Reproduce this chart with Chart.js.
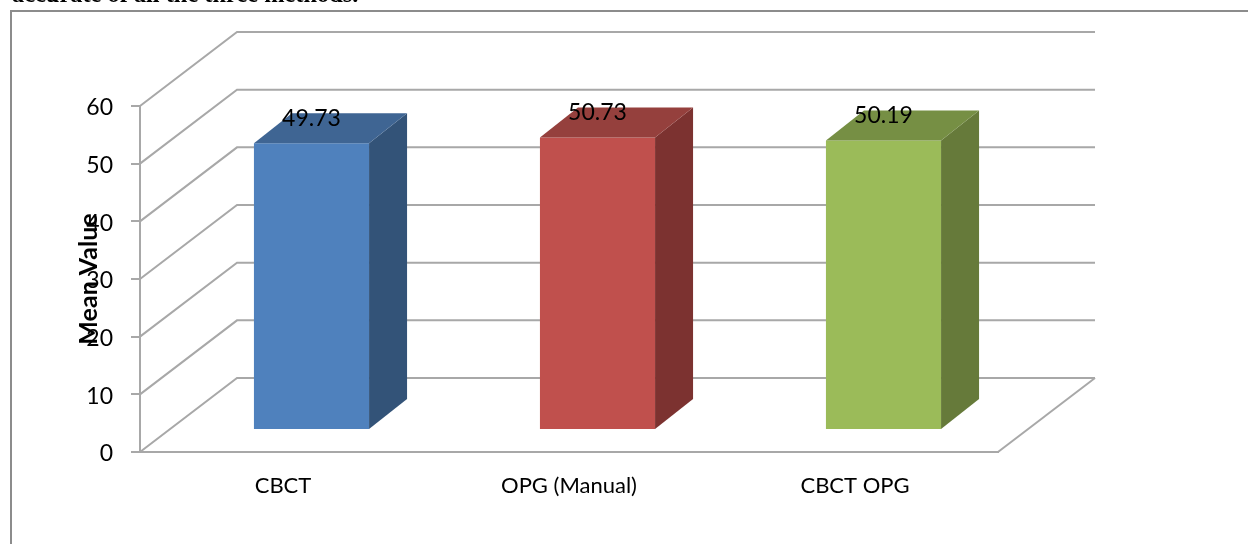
<!DOCTYPE html>
<html>
<head>
<meta charset="utf-8">
<script src="https://cdn.jsdelivr.net/npm/chart.js@4"></script>
<style>
html,body{margin:0;padding:0;background:#fff;width:1248px;height:544px;overflow:hidden}
#wrap{position:absolute;left:0;top:0;width:1248px;height:544px;overflow:hidden}
#frame{position:absolute;left:10px;top:10px;width:1300px;height:600px;border:2px solid #8c8c8c;box-sizing:border-box}
#cap{position:absolute;left:12px;top:-20px;font:bold 24.4px "Liberation Serif";color:#000;white-space:nowrap;filter:blur(.5px)}
canvas{filter:blur(.6px)}
</style>
</head>
<body>
<div id="wrap">
<div id="cap">accurate of all the three methods.</div>
<div id="frame"></div>
<canvas id="c" width="1248" height="544" style="position:absolute;left:0;top:0"></canvas>
</div>
<script>
const categories = ["CBCT", "OPG (Manual)", "CBCT OPG"];
const meanValues = [49.73, 50.73, 50.19];
const valueLabels = ["49.73", "50.73", "50.19"];
const frontColors = ["#4f81bd", "#c0504d", "#9bbb59"];
const sideColors = ["#335378", "#7c3230", "#667a3a"];
const topColors = ["#3f6593", "#95403d", "#768f44"];
const axisTitle = "Mean Value";
const FONT = "Lato";
const GRID = "#a8a8a8";
const WALL = {dx: 97, dy: -74};
const BAR_SHIFT = {dx: 28.5, dy: -22};
const BAR_DEPTH = {dx: 38, dy: -30};

const walls3d = {
  id: "walls3d",
  beforeDatasetsDraw(chart) {
    const {ctx, scales: {y}, chartArea: a} = chart;
    ctx.save();
    ctx.strokeStyle = GRID;
    ctx.lineWidth = 2;
    ctx.lineJoin = "miter";
    y.ticks.forEach(t => {
      const py = y.getPixelForValue(t.value);
      ctx.beginPath();
      ctx.moveTo(a.left, py);
      ctx.lineTo(a.left + WALL.dx, py + WALL.dy);
      ctx.lineTo(a.right + WALL.dx, py + WALL.dy);
      ctx.stroke();
    });
    const p0 = y.getPixelForValue(0);
    ctx.beginPath();
    ctx.moveTo(a.right, p0);
    ctx.lineTo(a.right + WALL.dx, p0 + WALL.dy);
    ctx.stroke();
    ctx.restore();
    ctx.save();
    ctx.translate(BAR_SHIFT.dx, BAR_SHIFT.dy);
  },
  afterDatasetsDraw(chart) {
    const {ctx} = chart;
    const meta = chart.getDatasetMeta(0);
    meta.data.forEach((bar, i) => {
      const {x, y, base, width} = bar.getProps(["x", "y", "base", "width"], true);
      const l = x - width / 2, r = x + width / 2;
      ctx.fillStyle = sideColors[i];
      ctx.beginPath();
      ctx.moveTo(r, y);
      ctx.lineTo(r + BAR_DEPTH.dx, y + BAR_DEPTH.dy);
      ctx.lineTo(r + BAR_DEPTH.dx, base + BAR_DEPTH.dy);
      ctx.lineTo(r, base);
      ctx.closePath();
      ctx.fill();
      ctx.fillStyle = topColors[i];
      ctx.beginPath();
      ctx.moveTo(l, y);
      ctx.lineTo(l + BAR_DEPTH.dx, y + BAR_DEPTH.dy);
      ctx.lineTo(r + BAR_DEPTH.dx, y + BAR_DEPTH.dy);
      ctx.lineTo(r, y);
      ctx.closePath();
      ctx.fill();
      ctx.fillStyle = "#000";
      ctx.font = "23px " + FONT;
      ctx.textAlign = "center";
      ctx.textBaseline = "middle";
      ctx.fillText(valueLabels[i], x, y - 25);
    });
    ctx.restore();
  }
};

new Chart(document.getElementById("c"), {
  type: "bar",
  data: {
    labels: categories,
    datasets: [{
      data: meanValues,
      backgroundColor: frontColors,
      borderWidth: 0,
      barPercentage: 0.4025,
      categoryPercentage: 1
    }]
  },
  options: {
    responsive: false,
    animation: false,
    events: [],
    layout: {padding: {left: 0, top: 106, right: 250, bottom: 0}},
    plugins: {legend: {display: false}, tooltip: {enabled: false}, title: {display: false}},
    scales: {
      x: {
        afterFit(s) { s.height = 92; },
        grid: {drawOnChartArea: false, drawTicks: false},
        border: {color: GRID, width: 2},
        ticks: {color: "#000", font: {family: FONT, size: 22}, padding: 21, maxRotation: 0}
      },
      y: {
        min: 0, max: 60,
        afterFit(s) {
          s.width = 140;
          if (!s._shifted) {
            s._shifted = true;
            const compute = s._computeLabelItems.bind(s);
            s._computeLabelItems = area => {
              const items = compute(area);
              items.forEach(it => {
                it.options.translation = [it.options.translation[0], it.options.translation[1] + 2];
              });
              return items;
            };
          }
        },
        title: {display: true, text: axisTitle, color: "#000", font: {family: FONT, size: 25, weight: "bold"}, padding: {top: 74, bottom: 0}},
        grid: {drawOnChartArea: false, color: GRID, lineWidth: 2, tickLength: 9},
        border: {color: GRID, width: 2},
        ticks: {color: "#000", font: {family: FONT, size: 23}, padding: 18, stepSize: 10}
      }
    }
  },
  plugins: [walls3d]
});
</script>
</body>
</html>
